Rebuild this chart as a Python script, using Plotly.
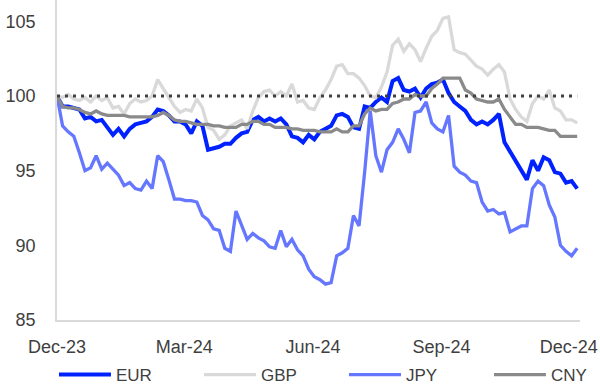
import pandas as pd
import plotly.graph_objects as go

# Currency indices vs USD, rebased to 100 at start (sampled every 4 days)
start_date = "2023-12-01"
sample_freq = "4D"

eur = [100.0, 99.3, 99.3, 99.2, 99.1, 98.5, 98.6, 98.3, 98.4, 97.9,
       97.4, 97.8, 97.3, 97.8, 98.1, 98.2, 98.3, 98.6, 99.1, 99.0,
       98.7, 98.3, 98.3, 98.1, 97.5, 98.3, 98.0, 96.4, 96.5, 96.6,
       96.8, 96.8, 97.2, 97.5, 97.6, 98.4, 98.6, 98.3, 98.5, 98.3,
       98.5, 98.1, 97.3, 97.2, 96.9, 97.4, 97.1, 97.6, 97.8, 98.0,
       98.7, 98.8, 98.6, 97.9, 97.8, 99.3, 99.2, 99.6, 99.9, 99.6,
       101.0, 101.2, 100.4, 100.3, 100.5, 99.9, 100.5, 100.8, 100.9, 101.1,
       100.2, 99.6, 99.3, 99.0, 98.4, 98.1, 98.3, 98.1, 98.4, 98.8,
       96.9, 96.3, 95.7, 95.1, 94.4, 95.7, 95.0, 95.9, 95.7, 94.9,
       94.8, 94.2, 94.3, 93.8]

gbp = [100.0, 99.9, 100.1, 99.8, 99.7, 99.9, 99.6, 100.0, 99.7, 99.9,
       99.2, 99.3, 98.8, 99.5, 99.8, 99.6, 99.7, 100.0, 101.1, 100.5,
       99.9, 99.3, 98.9, 99.1, 99.0, 99.8, 99.2, 97.9, 97.7, 97.1,
       97.4, 98.0, 98.2, 98.4, 97.8, 99.0, 99.9, 100.3, 100.4, 100.0,
       100.3, 100.0, 100.8, 99.6, 99.7, 99.2, 99.1, 99.9, 100.4, 101.1,
       102.0, 102.1, 101.5, 101.5, 101.2, 100.7, 100.0, 99.9, 100.6, 101.6,
       103.4, 103.8, 103.0, 103.5, 103.1, 102.3, 103.2, 104.0, 104.4, 105.2,
       105.3, 103.1, 102.9, 102.8, 102.4, 102.0, 101.8, 101.4, 101.8, 102.1,
       101.6, 99.8, 99.1, 98.6, 98.3, 99.5, 100.0, 99.8, 100.4, 99.2,
       99.0, 98.4, 98.4, 98.2]

jpy = [100.0, 98.0, 97.6, 97.3, 96.2, 95.0, 95.2, 96.0, 95.1, 95.5,
       95.1, 94.7, 94.0, 94.2, 93.8, 93.7, 94.3, 93.8, 96.0, 95.6,
       94.4, 93.1, 93.1, 93.0, 93.0, 92.9, 92.0, 91.7, 91.1, 91.0,
       89.8, 89.6, 92.3, 91.3, 90.4, 90.8, 90.5, 90.3, 89.9, 89.8,
       91.0, 89.9, 90.4, 89.7, 89.3, 88.4, 87.9, 87.7, 87.4, 87.5,
       89.3, 89.5, 89.8, 92.0, 91.3, 94.9, 99.0, 96.0, 94.9, 96.4,
       96.9, 97.8, 97.1, 96.2, 98.9, 99.0, 99.6, 98.2, 97.8, 97.6,
       98.7, 95.3, 94.9, 94.7, 94.3, 94.2, 92.9, 92.3, 92.4, 92.1,
       92.2, 90.9, 91.1, 91.3, 91.3, 93.8, 94.3, 94.0, 92.7, 91.9,
       90.0, 89.6, 89.3, 89.8]

cny = [100.0, 99.3, 99.2, 99.2, 99.1, 98.9, 98.8, 99.0, 98.8, 98.7,
       98.7, 98.7, 98.7, 98.6, 98.6, 98.6, 98.6, 98.6, 98.7, 98.9,
       98.7, 98.4, 98.3, 98.3, 98.2, 98.1, 98.1, 98.1, 98.0, 98.0,
       97.9, 97.9, 97.9, 98.1, 98.1, 98.3, 98.3, 98.1, 98.1, 97.9,
       97.9, 97.9, 97.8, 97.8, 97.7, 97.7, 97.7, 97.6, 97.6, 97.6,
       97.8, 97.6, 97.6, 98.0, 98.0, 98.8, 99.2, 99.0, 99.1, 99.1,
       99.5, 99.6, 99.8, 99.8, 100.1, 100.0, 100.0, 100.5, 100.8, 101.2,
       101.2, 101.2, 101.2, 100.4, 100.2, 99.8, 99.7, 99.6, 99.6, 99.8,
       99.1, 98.6, 98.1, 98.1, 97.9, 97.9, 97.9, 97.8, 97.7, 97.7,
       97.3, 97.3, 97.3, 97.3]

series_names = ["EUR", "GBP", "JPY", "CNY"]
series_values = [eur, gbp, jpy, cny]
series_colors = ["#0022FF", "#D9D9D9", "#6677FF", "#8A8A8A"]
series_widths = [4, 3.3, 3.3, 3.3]

tick_dates = ["2023-12-01", "2024-03-01", "2024-06-01", "2024-09-01", "2024-12-01"]
tick_labels = ["Dec-23", "Mar-24", "Jun-24", "Sep-24", "Dec-24"]
y_ticks = [85, 90, 95, 100, 105]
baseline = 100

dates = pd.date_range(start_date, periods=len(eur), freq=sample_freq)

fig = go.Figure()
for name, vals, col, w in zip(series_names, series_values, series_colors, series_widths):
    fig.add_trace(go.Scatter(
        x=dates, y=vals, name=name, mode="lines",
        line=dict(color=col, width=w),
    ))

# dotted reference line at the rebasing level
fig.add_shape(
    type="line", xref="x", yref="y",
    x0=dates[0], x1=dates[-1], y0=baseline, y1=baseline,
    line=dict(color="#404040", width=3, dash="3px,5px"),
    layer="above",
)

font_family = "Liberation Sans, Arial, sans-serif"
fig.update_layout(
    width=600, height=386,
    margin=dict(l=57, r=20, t=0, b=66, autoexpand=False),
    paper_bgcolor="white", plot_bgcolor="white",
    font=dict(family=font_family, size=18, color="#404040"),
    showlegend=True,
    legend=dict(
        orientation="h",
        x=-0.0058, xanchor="left", y=-0.172, yanchor="middle",
        entrywidth=78, entrywidthmode="pixels",
        itemwidth=52, font=dict(size=17, color="#404040"),
        bgcolor="rgba(0,0,0,0)",
    ),
    xaxis=dict(
        type="date",
        range=[dates[0], pd.Timestamp("2024-12-09")],
        tickvals=tick_dates, ticktext=tick_labels,
        showgrid=False, zeroline=False,
        showline=True, linecolor="#D9D9D9", linewidth=1.5,
        ticks="", ticklabelstandoff=10,
    ),
    yaxis=dict(
        range=[85, 106.43],
        tickvals=y_ticks,
        showgrid=False, zeroline=False,
        showline=True, linecolor="#D9D9D9", linewidth=1.5,
        ticks="", ticklabelstandoff=16,
    ),
)

fig.write_html("out.html")
